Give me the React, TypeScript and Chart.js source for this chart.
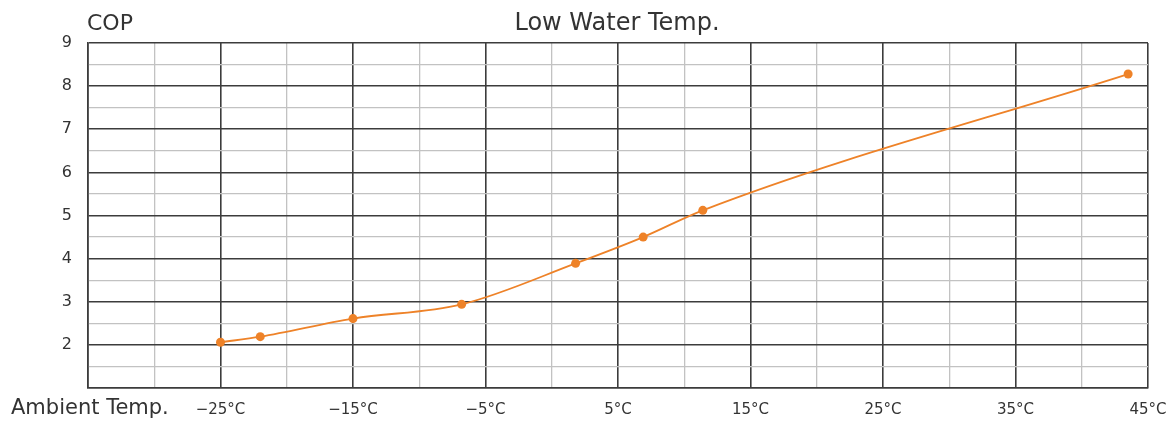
import React, { useEffect, useRef } from "react";
import { Chart, registerables } from "chart.js";

Chart.register(...registerables);

// Data
const ambientTemps = [-25, -22, -15, -6.8, 1.8, 6.9, 11.4, 43.5];
const copValues = [2.06, 2.19, 2.61, 2.94, 3.89, 4.5, 5.12, 8.28];

// Tick labels
const xTickValues = [-25, -15, -5, 5, 15, 25, 35, 45];
const xTickLabels = ["−25°C", "−15°C", "−5°C", "5°C", "15°C", "25°C", "35°C", "45°C"];
const yTickValues = [2, 3, 4, 5, 6, 7, 8, 9];

const titleText = "Low Water Temp.";
const yTitleText = "COP";
const xTitleText = "Ambient Temp.";

const FONT = "'DejaVu Sans', sans-serif";
const TEXT = "#333333";
const ORANGE = "#ee8228";
const DARK = "#3c3c3c";
const LIGHT = "#c2c2c2";

const textPlugin = {
  id: "texts",
  afterDraw(chart: any) {
    const ctx = chart.ctx;
    ctx.save();
    ctx.fillStyle = TEXT;
    ctx.textBaseline = "alphabetic";
    ctx.font = `24px ${FONT}`;
    ctx.textAlign = "center";
    ctx.fillText(titleText, 617, 29.5);
    ctx.font = `22px ${FONT}`;
    ctx.textAlign = "left";
    ctx.fillText(yTitleText, 87, 30);
    ctx.font = `21px ${FONT}`;
    ctx.fillText(xTitleText, 11, 414);
    ctx.restore();
  },
};

export default function App() {
  const ref = useRef<HTMLCanvasElement | null>(null);
  useEffect(() => {
    if (!ref.current) return;
    const chart = new Chart(ref.current, {
      type: "line",
      data: {
        datasets: [
          {
            data: ambientTemps.map((x, i) => ({ x, y: copValues[i] })),
            borderColor: ORANGE,
            backgroundColor: ORANGE,
            borderWidth: 1.8,
            pointRadius: 4.5,
            pointBorderWidth: 0,
            cubicInterpolationMode: "monotone",
            fill: false,
          },
        ],
      },
      options: {
        animation: false,
        responsive: true,
        maintainAspectRatio: false,
        layout: { padding: { top: 43, right: 25, left: 0, bottom: 0 } },
        plugins: { legend: { display: false }, tooltip: { enabled: false }, title: { display: false } },
        scales: {
          x: {
            type: "linear",
            min: -35,
            max: 45,
            afterFit(scale: any) {
              scale.height = 33;
              scale.paddingLeft = 0;
              scale.paddingRight = 0;
            },
            afterBuildTicks(scale: any) {
              const t = [];
              for (let v = -35; v <= 45; v += 5) t.push({ value: v });
              scale.ticks = t;
            },
            ticks: {
              autoSkip: false,
              maxRotation: 0,
              padding: 13,
              color: TEXT,
              font: { family: FONT, size: 15 },
              callback: (v: any) => {
                const i = xTickValues.indexOf(Number(v));
                return i >= 0 ? xTickLabels[i] : "";
              },
            },
            grid: {
              drawTicks: false,
              color: (c: any) => (((c.tick?.value ?? 0) + 35) % 10 === 0 ? DARK : LIGHT),
              lineWidth: (c: any) => (((c.tick?.value ?? 0) + 35) % 10 === 0 ? 1.6 : 1.3),
            },
            border: { display: true, color: DARK, width: 1.6 },
          },
          y: {
            type: "linear",
            min: 1,
            max: 9,
            afterFit(scale: any) {
              scale.width = 88;
              scale.paddingTop = 0;
              scale.paddingBottom = 0;
            },
            afterBuildTicks(scale: any) {
              const t = [];
              for (let v = 1; v <= 9.001; v += 0.5) t.push({ value: v });
              scale.ticks = t;
            },
            ticks: {
              autoSkip: false,
              padding: 16,
              color: TEXT,
              font: { family: FONT, size: 16 },
              callback: (v: any) => (yTickValues.includes(Number(v)) ? String(v) : ""),
            },
            grid: {
              drawTicks: false,
              color: (c: any) => (Number.isInteger(c.tick?.value) ? DARK : LIGHT),
              lineWidth: (c: any) => (Number.isInteger(c.tick?.value) ? 1.6 : 1.3),
            },
            border: { display: true, color: DARK, width: 1.6 },
          },
        },
      },
      plugins: [textPlugin],
    } as any);
    return () => chart.destroy();
  }, []);
  return (
    <div style={{ position: "absolute", left: 0, top: 0, width: 1173, height: 421, background: "#fff" }}>
      <canvas ref={ref} />
    </div>
  );
}
